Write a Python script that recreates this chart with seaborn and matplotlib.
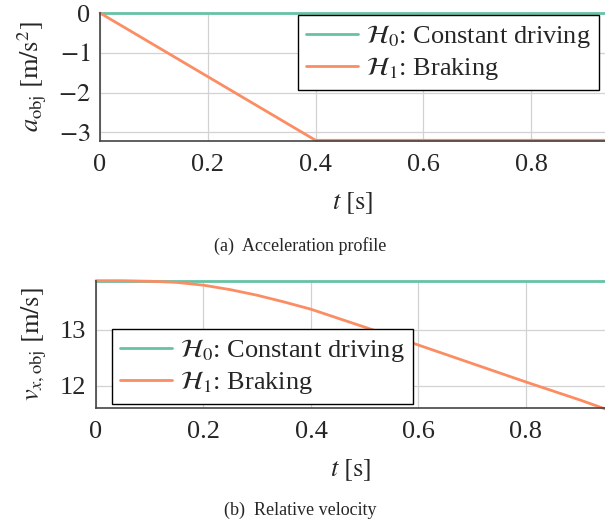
import matplotlib
matplotlib.use('Agg')
import matplotlib.pyplot as plt
import numpy as np
import pandas as pd
import seaborn as sns

sns.set_style('whitegrid')
plt.rcParams['font.family'] = ['Liberation Serif', 'DejaVu Serif']
plt.rcParams['mathtext.fontset'] = 'stix'

# values
hyp_labels = [r'$\mathcal{H}_0$: Constant driving', r'$\mathcal{H}_1$: Braking']
colors = ['#66c2a5', '#fc8d62']

t_const = [0.0, 0.95]
a_const = [0.0, 0.0]
t_brake = [0.0, 0.4, 0.95]
a_brake = [0.0, -3.2, -3.2]

v_const = [13.88, 13.88]
t_vbrake = [0.0, 0.05, 0.1, 0.15, 0.2, 0.25, 0.3, 0.35, 0.4, 0.45, 0.5, 0.6, 0.7, 0.8, 0.9, 0.95]
v_brake = [13.88, 13.88, 13.87, 13.85, 13.80, 13.72, 13.62, 13.50, 13.37, 13.21, 13.05,
           12.73, 12.40, 12.07, 11.75, 11.58]

x_ticks = [0, 0.2, 0.4, 0.6, 0.8]
x_ticklabels = ['0', '0.2', '0.4', '0.6', '0.8']

acc = pd.concat([
    pd.DataFrame({'t': t_const, 'val': a_const, 'hyp': hyp_labels[0]}),
    pd.DataFrame({'t': t_brake, 'val': a_brake, 'hyp': hyp_labels[1]}),
])
vel = pd.concat([
    pd.DataFrame({'t': t_const, 'val': v_const, 'hyp': hyp_labels[0]}),
    pd.DataFrame({'t': t_vbrake, 'val': v_brake, 'hyp': hyp_labels[1]}),
])

W, H = 605, 525
fig = plt.figure(figsize=(W / 100, H / 100), dpi=100)
ax1 = fig.add_axes([100 / W, 1 - 140.7 / H, 505 / W, 127.7 / H])
ax2 = fig.add_axes([96 / W, 1 - 408.3 / H, 509 / W, 127.6 / H])

fs = 19
for ax, df in [(ax1, acc), (ax2, vel)]:
    sns.lineplot(data=df, x='t', y='val', hue='hyp', palette=colors, linewidth=2.0,
                 ax=ax, legend=True)
    ax.set_xticks(x_ticks)
    ax.set_xticklabels(x_ticklabels)
    ax.grid(True, color='#d2d2d2', linewidth=0.9)
    for side in ['left', 'bottom']:
        ax.spines[side].set_color('#444444')
        ax.spines[side].set_linewidth(1.2)
    for side in ['top', 'right']:
        ax.spines[side].set_visible(False)
    ax.tick_params(direction='in', length=5, width=0.9, color='#777777',
                   labelsize=fs, pad=7)
    ax.tick_params(axis='x', pad=9.5)
    ax.set_xlabel(r'$t\ [\mathrm{s}]$', fontsize=fs, labelpad=10)

ax1.set_xlim(0, 0.937)
ax1.set_ylim(-3.21, 0)
ax1.set_yticks([0, -1, -2, -3])
ax1.set_yticklabels(['0', r'$-1$', r'$-2$', r'$-3$'])
ax1.set_ylabel(r'$a_{\mathrm{obj}}\ [\mathrm{m/s^2}]$', fontsize=fs, labelpad=6)

ax2.set_xlim(0, 0.947)
ax2.set_ylim(11.6, 13.88)
ax2.set_yticks([12, 13])
ax2.set_yticklabels(['12', '13'])
ax2.set_ylabel(r'$v_{x,\mathrm{obj}}\ [\mathrm{m/s}]$', fontsize=fs, labelpad=8)

for ax in (ax1, ax2):
    for line in ax.get_lines():
        line.set_clip_on(False)

leg_kw = dict(title=None, fontsize=fs, frameon=True, fancybox=False, framealpha=1,
              edgecolor='black', borderaxespad=0, handlelength=2.0, handletextpad=0.3,
              labelspacing=0.2, borderpad=0.3)
l1 = ax1.legend(loc='upper right', bbox_to_anchor=(0.988, 0.985), **leg_kw)
l2 = ax2.legend(loc='lower left', bbox_to_anchor=(0.031, 0.034), **leg_kw)
for leg in (l1, l2):
    leg.get_frame().set_linewidth(1.0)

fig.text(300 / W, 1 - 246 / H, '(a)  Acceleration profile', ha='center', va='center', fontsize=13)
fig.text(300 / W, 1 - 510 / H, '(b)  Relative velocity', ha='center', va='center', fontsize=13)

fig.savefig('out.png', dpi=100)
